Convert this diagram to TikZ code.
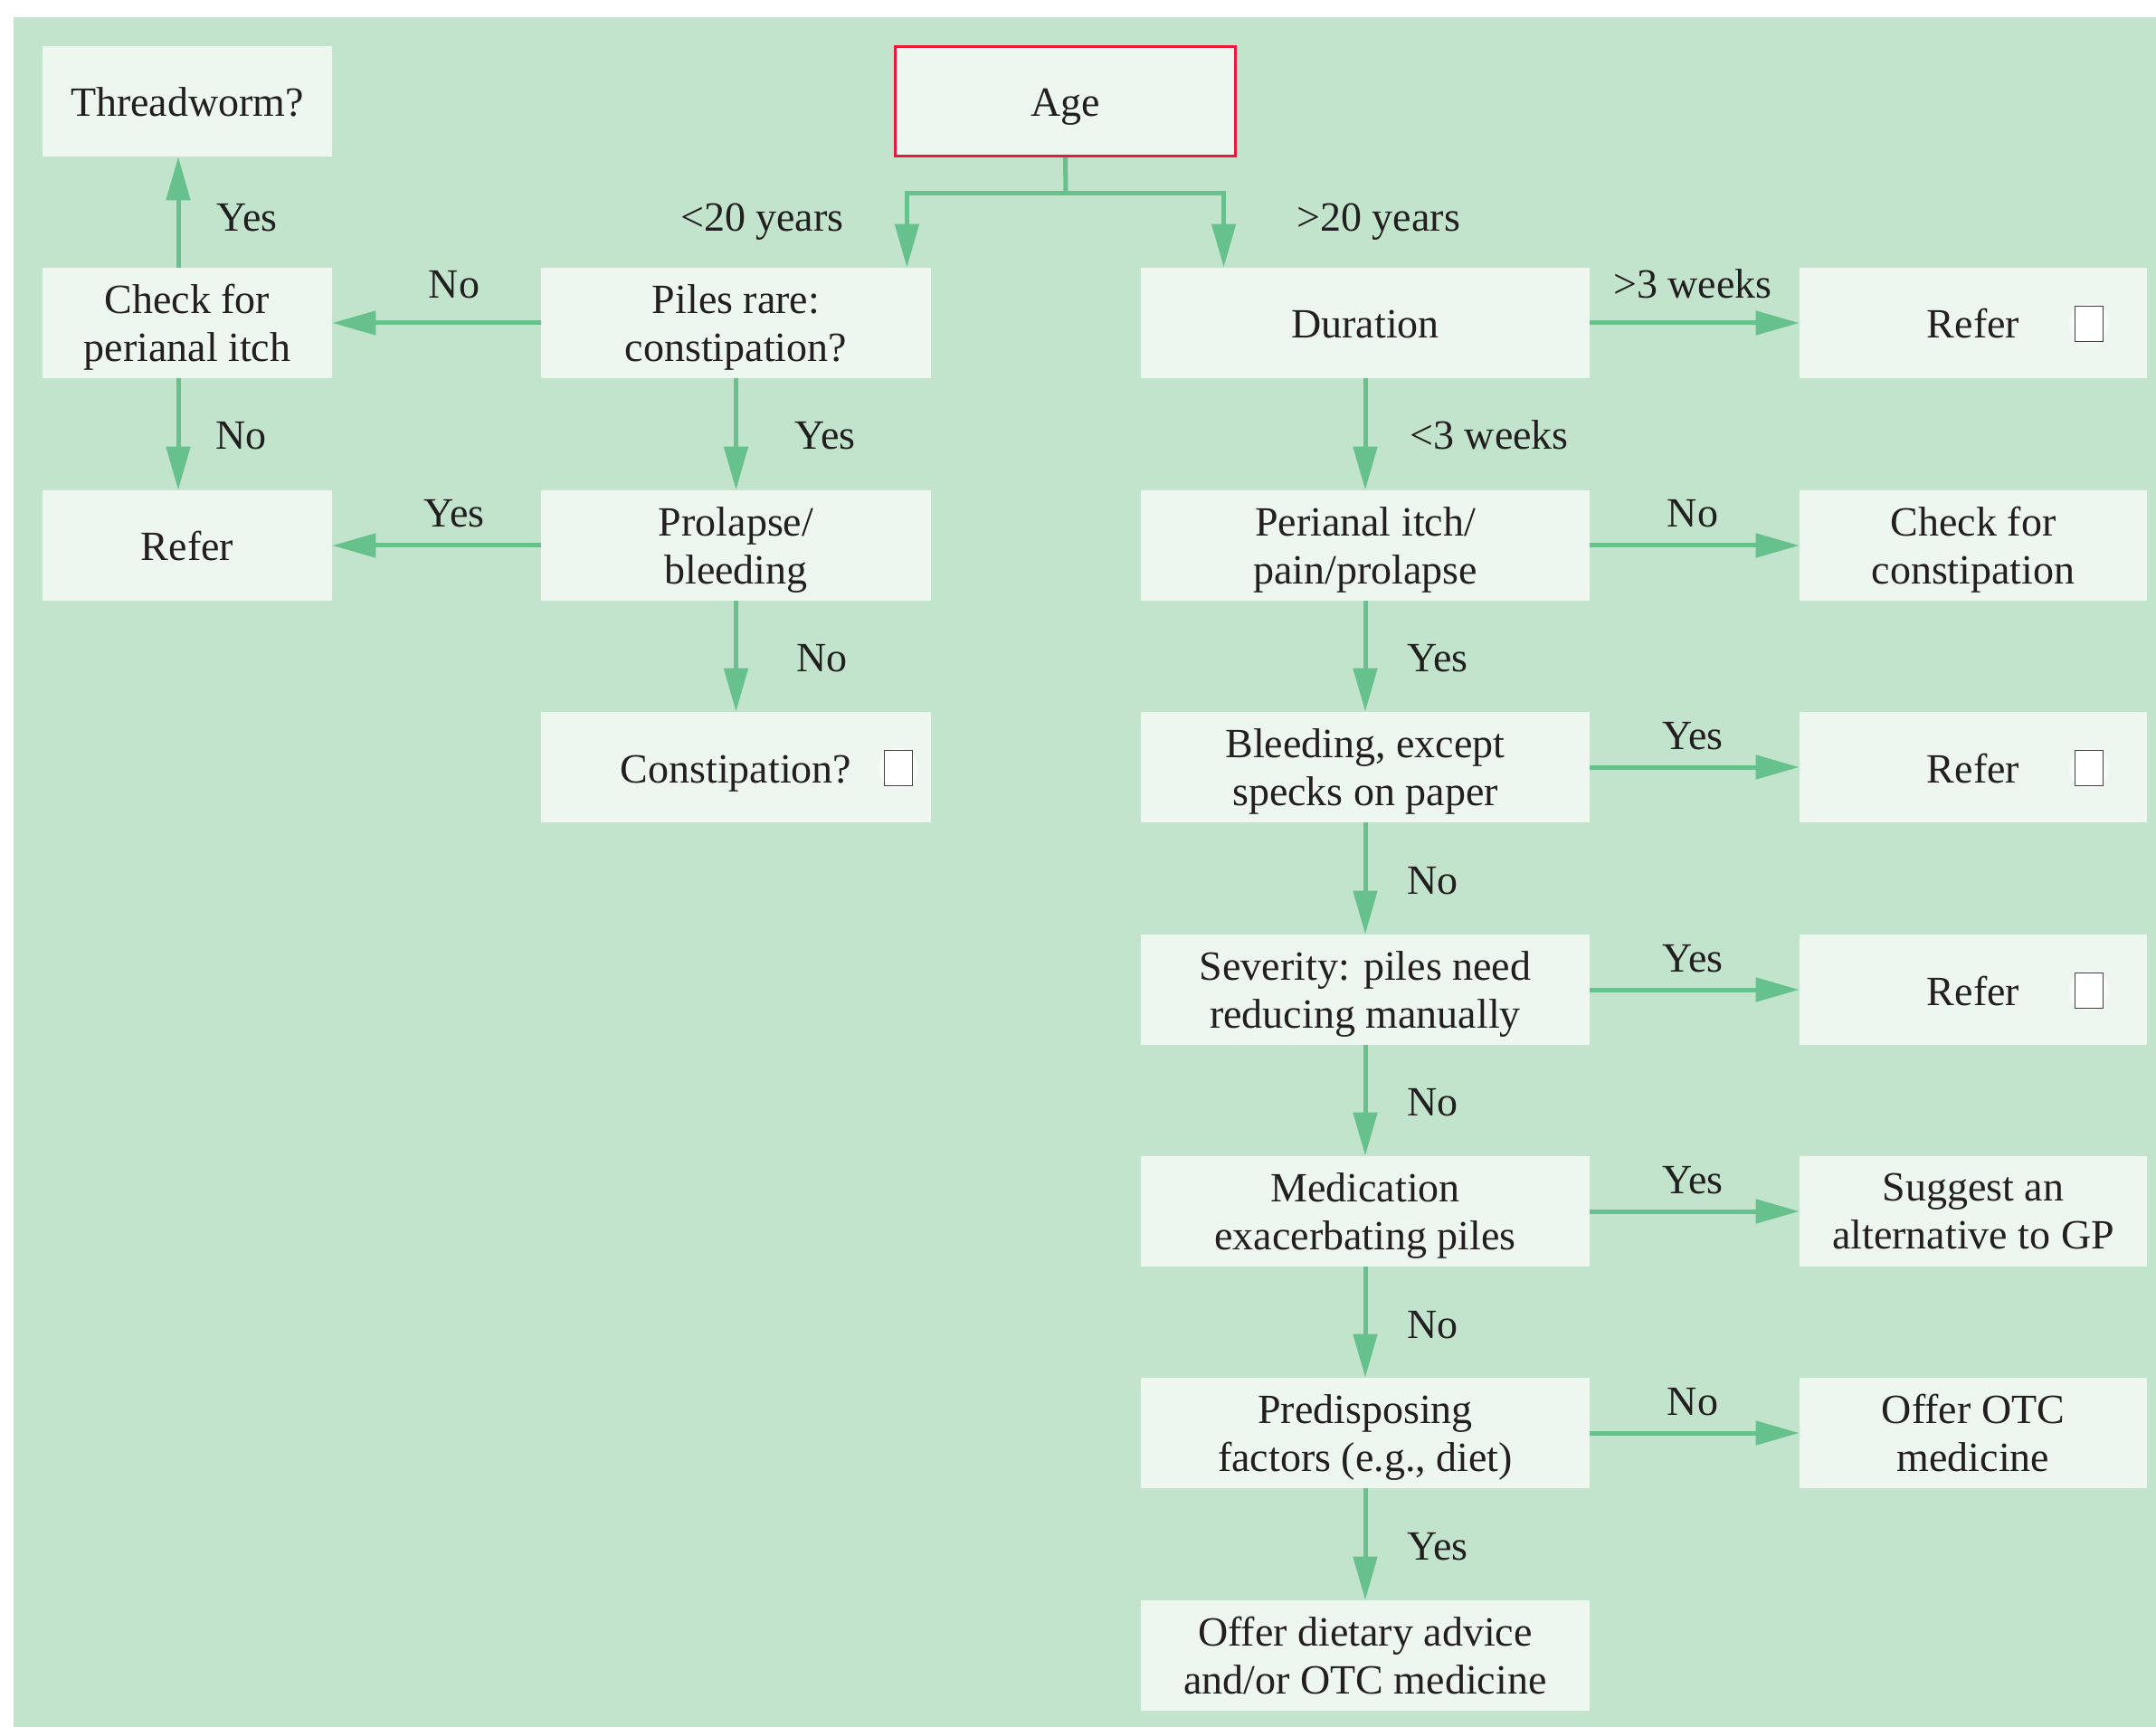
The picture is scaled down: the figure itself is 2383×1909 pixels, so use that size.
\documentclass[tikz,border=0pt]{standalone}
\usepackage{fontspec}
\setmainfont{Liberation Serif}
\usetikzlibrary{arrows.meta,calc}
\definecolor{bggreen}{RGB}{194,228,205}
\definecolor{boxfill}{RGB}{237,247,239}
\definecolor{arrowgreen}{RGB}{102,193,140}
\definecolor{agered}{RGB}{232,25,60}
\definecolor{ink}{RGB}{35,31,32}
\begin{document}
\begin{tikzpicture}[x=0.5pt,y=-0.5pt,
  every node/.style={text=ink, font=\fontsize{23pt}{26.5pt}\selectfont},
  box/.style={fill=boxfill, inner sep=0pt, minimum height=61pt, align=center},
  % baseline placement: one line sits 8.5pt below the centre,
  % two lines have their first baseline 5pt above it
  oneline/.style={text height=17pt, text depth=0pt},
  twoline/.style={text depth=0pt, execute at begin node={\rule{0pt}{16.5pt}}},
  colA/.style={box, minimum width=160pt},
  colB/.style={box, minimum width=215.5pt},
  colC/.style={box, minimum width=248pt},
  colD/.style={box, minimum width=192pt},
  agebox/.style={box, draw=agered, line width=1.5pt, minimum width=188pt, minimum height=60.5pt},
  conn/.style={draw=arrowgreen, line width=2.5pt},
  arr/.style={conn, -{Triangle[length=24pt,width=13pt]}},
  lbl/.style={inner sep=0pt},
  tickbox/.style={draw=ink!85, line width=0.6pt, fill=white, minimum width=15.5pt, minimum height=19.5pt, inner sep=0pt},
  glow/.style={circle, fill=white, opacity=0.5, minimum size=22pt, inner sep=0pt}
]
\useasboundingbox (0,0) rectangle (2383,1909);
\fill[bggreen] (15,19) rectangle (2383,1909);

% left column
\node[colA, oneline] (thread) at (207,112) {Threadworm?};
\node[colA, twoline] (check)  at (207,357) {Check for\\perianal itch};
\node[colA, oneline] (referL) at (207,603) {Refer};

% second column
\node[colB, twoline] (piles) at (813.5,357) {Piles rare:\\constipation?};
\node[colB, twoline] (prol)  at (813.5,603) {Prolapse/\\bleeding};
\node[colB, oneline] (const) at (813.5,848) {Constipation?};

% top
\node[agebox, oneline] (age) at (1177.5,112) {Age};

% third column
\node[colC, oneline] (dur)   at (1509,357)  {Duration};
\node[colC, twoline] (peri)  at (1509,603)  {Perianal itch/\\pain/prolapse};
\node[colC, twoline] (bleed) at (1509,848)  {Bleeding, except\\specks on paper};
\node[colC, twoline] (sev)   at (1509,1094) {Severity: piles need\\reducing manually};
\node[colC, twoline] (med)   at (1509,1339) {Medication\\exacerbating piles};
\node[colC, twoline] (pred)  at (1509,1584) {Predisposing\\factors (e.g., diet)};
\node[colC, twoline] (diet)  at (1509,1830) {Offer dietary advice\\and/or OTC medicine};

% fourth column
\node[colD, oneline] (referA)  at (2181,357)  {Refer};
\node[colD, twoline] (checkc)  at (2181,603)  {Check for\\constipation};
\node[colD, oneline] (referB)  at (2181,848)  {Refer};
\node[colD, oneline] (referC)  at (2181,1094) {Refer};
\node[colD, twoline] (suggest) at (2181,1339) {Suggest an\\alternative to GP};
\node[colD, twoline] (otc)     at (2181,1584) {Offer OTC\\medicine};

% tick boxes
\node[glow] (glowA) at (2309,358) {};
\node[tickbox] (tickA) at (2309,358) {};
\node[glow] (glowB) at (2309,849) {};
\node[tickbox] (tickB) at (2309,849) {};
\node[glow] (glowC) at (2309,1095) {};
\node[tickbox] (tickC) at (2309,1095) {};
\node[glow] (glowD) at (993,849) {};
\node[tickbox] (tickD) at (993,849) {};

% age split
\coordinate (split) at (1178,214);
\draw[conn] (age.south) -- (split);
\draw[arr] (split) -| ($(piles.north east)+(-27,0)$);
\draw[arr] (split) -| ($(dur.north west)+(92,0)$);
\node[lbl, anchor=base east] (lyoung) at (933,256) {<20 years};
\node[lbl, anchor=base west] (lold) at (1433,256) {>20 years};

% left branch
\draw[arr] ($(check.north)+(-10,0)$) -- ($(thread.south)+(-10,0)$);
\draw[arr] ($(check.south)+(-10,0)$) -- ($(referL.north)+(-10,0)$);
\draw[arr] (piles.west) -- (check.east);
\draw[arr] (prol.west) -- (referL.east);
\draw[arr] (piles.south) -- (prol.north);
\draw[arr] (prol.south) -- (const.north);
\node[lbl, anchor=base west] (l1) at (239,256) {Yes};
\node[lbl, anchor=base west] (l2) at (238,497) {No};
\node[lbl, anchor=base] (l3) at (502,330) {No};
\node[lbl, anchor=base] (l4) at (502,583) {Yes};
\node[lbl, anchor=base west] (l5) at (878,497) {Yes};
\node[lbl, anchor=base west] (l6) at (880,742) {No};

% right branch, main spine
\draw[arr] (dur.south) -- (peri.north);
\draw[arr] (peri.south) -- (bleed.north);
\draw[arr] (bleed.south) -- (sev.north);
\draw[arr] (sev.south) -- (med.north);
\draw[arr] (med.south) -- (pred.north);
\draw[arr] (pred.south) -- (diet.north);
\node[lbl, anchor=base west] (r1) at (1558,497)  {<3 weeks};
\node[lbl, anchor=base west] (r2) at (1555,742)  {Yes};
\node[lbl, anchor=base west] (r3) at (1555,988)  {No};
\node[lbl, anchor=base west] (r4) at (1555,1233) {No};
\node[lbl, anchor=base west] (r5) at (1555,1479) {No};
\node[lbl, anchor=base west] (r6) at (1555,1724) {Yes};

% right branch, side outcomes
\draw[arr] (dur.east) -- (referA.west);
\draw[arr] (peri.east) -- (checkc.west);
\draw[arr] (bleed.east) -- (referB.west);
\draw[arr] (sev.east) -- (referC.west);
\draw[arr] (med.east) -- (suggest.west);
\draw[arr] (pred.east) -- (otc.west);
\node[lbl, anchor=base] (s1) at (1871,330)  {>3 weeks};
\node[lbl, anchor=base] (s2) at (1871,583)  {No};
\node[lbl, anchor=base] (s3) at (1871,828)  {Yes};
\node[lbl, anchor=base] (s4) at (1871,1074) {Yes};
\node[lbl, anchor=base] (s5) at (1871,1319) {Yes};
\node[lbl, anchor=base] (s6) at (1871,1564) {No};
\end{tikzpicture}
\end{document}
